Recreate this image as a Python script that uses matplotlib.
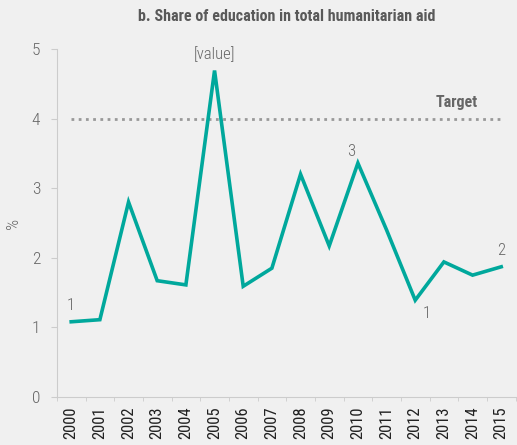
import matplotlib.pyplot as plt
import numpy as np

years = [str(y) for y in range(2000, 2016)]
share = [1.08, 1.11, 2.80, 1.67, 1.61, 4.69, 1.59, 1.85, 3.20, 2.17,
         3.36, 2.40, 1.39, 1.94, 1.75, 1.87]
target = 4
point_labels = {0: ('1', 'above'), 5: ('[value]', 'above'), 10: ('3', 'aboveleft'),
                12: ('1', 'below'), 15: ('2', 'above')}

bg = '#f0f0f0'
teal = '#00a89c'
grey = '#666666'
plt.rcParams['font.family'] = ['Roboto Condensed', 'Roboto', 'DejaVu Sans']

fig = plt.figure(figsize=(5.17, 4.45), dpi=100, facecolor=bg)
ax = fig.add_axes([0.110, 0.108, 0.890, 0.782], facecolor=bg)

x = np.arange(len(years))
ax.plot(x, share, color=teal, lw=2.6, solid_joinstyle='miter', zorder=3)
ax.plot([x[0], x[-1]], [target, target], color='#999999', lw=2, ls=(0, (1, 1.6)), zorder=2)
ax.text(13.45, target + 0.12, 'Target', ha='center', va='bottom',
        fontsize=11.5, fontweight='bold', color=grey)

for i, (lab, pos) in point_labels.items():
    if pos == 'above':
        ax.text(x[i], share[i] + 0.12, lab, ha='center', va='bottom', fontsize=12,
                color=grey, fontweight='light', clip_on=False)
    elif pos == 'aboveleft':
        ax.text(x[i] - 0.25, share[i] + 0.06, lab, ha='center', va='bottom', fontsize=12,
                color=grey, fontweight='light', clip_on=False)
    else:
        ax.text(x[i] + 0.4, share[i] - 0.08, lab, ha='center', va='top', fontsize=12,
                color=grey, fontweight='light', clip_on=False)

ax.set_xlim(-0.45, 15.55)
ax.set_ylim(0, 5)
ax.set_xticks(x)
ax.set_xticklabels(years, rotation=90, fontsize=12, color='#222222')
ax.set_xticks(np.arange(-0.5, 16, 1), minor=True)
ax.tick_params(axis='x', which='major', length=0, pad=7)
ax.tick_params(axis='x', which='minor', length=3, color='#cccccc')
ax.set_yticks(range(6))
ax.set_yticklabels([str(v) for v in range(6)], fontweight='light')
ax.tick_params(axis='y', length=4, color='#cccccc', labelsize=12.5, labelcolor=grey, pad=8)
ax.set_ylabel('%', fontsize=12.5, color=grey, fontweight='light', labelpad=8)

for s in ['top', 'right']:
    ax.spines[s].set_visible(False)
for s in ['left', 'bottom']:
    ax.spines[s].set_color('#cccccc')

fig.text(0.555, 0.962, 'b. Share of education in total humanitarian aid', ha='center',
         va='center', fontsize=11.5, fontweight='bold', color='#595959')

fig.savefig('out.png', dpi=100, facecolor=bg)
